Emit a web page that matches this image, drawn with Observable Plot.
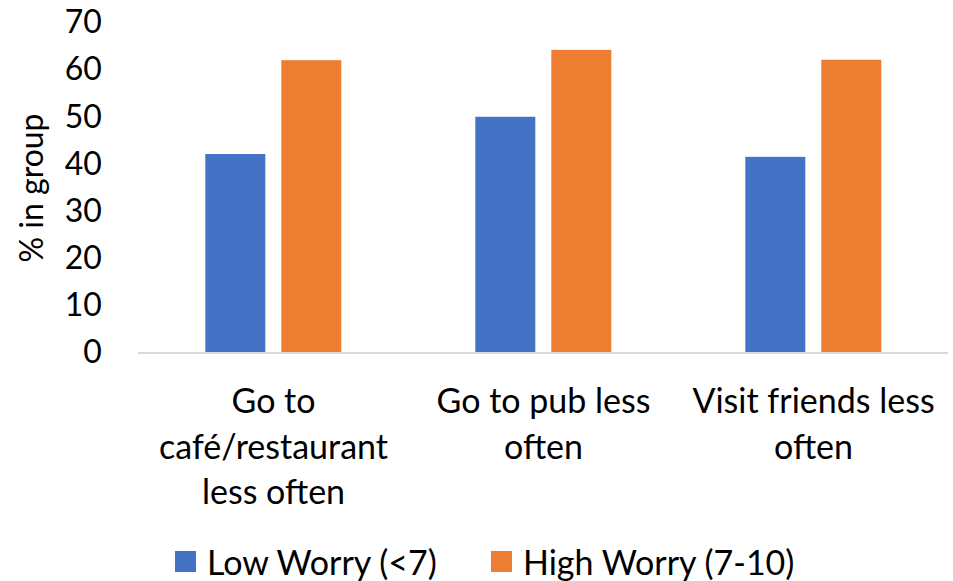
<!DOCTYPE html>
<html>
<head>
<meta charset="utf-8">
<script src="https://cdn.jsdelivr.net/npm/d3@7"></script>
<script src="https://cdn.jsdelivr.net/npm/@observablehq/plot@0.6"></script>
<style>
  html, body { margin: 0; padding: 0; background: #fff; }
  body { width: 953px; height: 581px; overflow: hidden; font-family: Lato, "Open Sans", sans-serif; color: #000; }
  #legend { position: relative; height: 51px; font-size: 34px; }
  .item { position: absolute; top: 6px; display: flex; align-items: center; height: 51px; }
  .sw { width: 21px; height: 21px; margin-right: 11px; }
</style>
</head>
<body>
<div id="chart"></div>
<div id="legend"></div>
<script>
const categories = ["Go to café/restaurant less often", "Go to pub less often", "Visit friends less often"];
const categoryLabels = ["Go to\ncafé/restaurant\nless often", "Go to pub less\noften", "Visit friends less\noften"];
const series = ["Low Worry (<7)", "High Worry (7-10)"];
const lowWorry = [42.1, 50.0, 41.5];
const highWorry = [62.0, 64.2, 62.1];
const colors = ["#4472C4", "#ED7D31"];
const yTicks = [0, 10, 20, 30, 40, 50, 60, 70];
const yLabel = "% in group";

const seriesValues = [lowWorry, highWorry];
const data = [];
categories.forEach((c, i) => series.forEach((s, j) => data.push({category: c, series: s, value: seriesValues[j][i]})));
const labelOf = new Map(categories.map((c, i) => [c, categoryLabels[i]]));

const H = 530;
const chart = Plot.plot({
  width: 953,
  height: H,
  marginLeft: 136.7,
  marginRight: 4,
  marginTop: 22.5,
  marginBottom: H - 352.5,
  style: {fontFamily: "Lato, 'Open Sans', sans-serif", fontSize: "34px", color: "#000", background: "#fff"},
  fx: {domain: categories, padding: 0},
  x: {domain: series, paddingInner: 0.208, paddingOuter: 0.862, axis: null},
  y: {domain: [0, 70]},
  color: {domain: series, range: colors},
  marks: [
    Plot.barY(data, {fx: "category", x: "series", y: "value", fill: "series"}),
    Plot.ruleY([0], {stroke: "#d9d9d9", strokeWidth: 2}),
    Plot.axisY({ticks: yTicks, tickSize: 0, tickPadding: 36.7, fontSize: 32, label: yLabel, labelAnchor: "center", labelArrow: "none", labelOffset: 118}),
    Plot.axisFx({anchor: "bottom", tickSize: 0, tickPadding: 28, fontSize: 34, lineHeight: 1.34, label: null, tickFormat: d => labelOf.get(d)})
  ]
});
document.getElementById("chart").appendChild(chart);

const legend = document.getElementById("legend");
const lefts = [175, 491];
series.forEach((s, j) => {
  const it = document.createElement("div");
  it.className = "item";
  it.style.left = lefts[j] + "px";
  const sw = document.createElement("div");
  sw.className = "sw";
  sw.style.background = colors[j];
  const tx = document.createElement("span");
  tx.textContent = s;
  it.appendChild(sw); it.appendChild(tx);
  legend.appendChild(it);
});
</script>
</body>
</html>
